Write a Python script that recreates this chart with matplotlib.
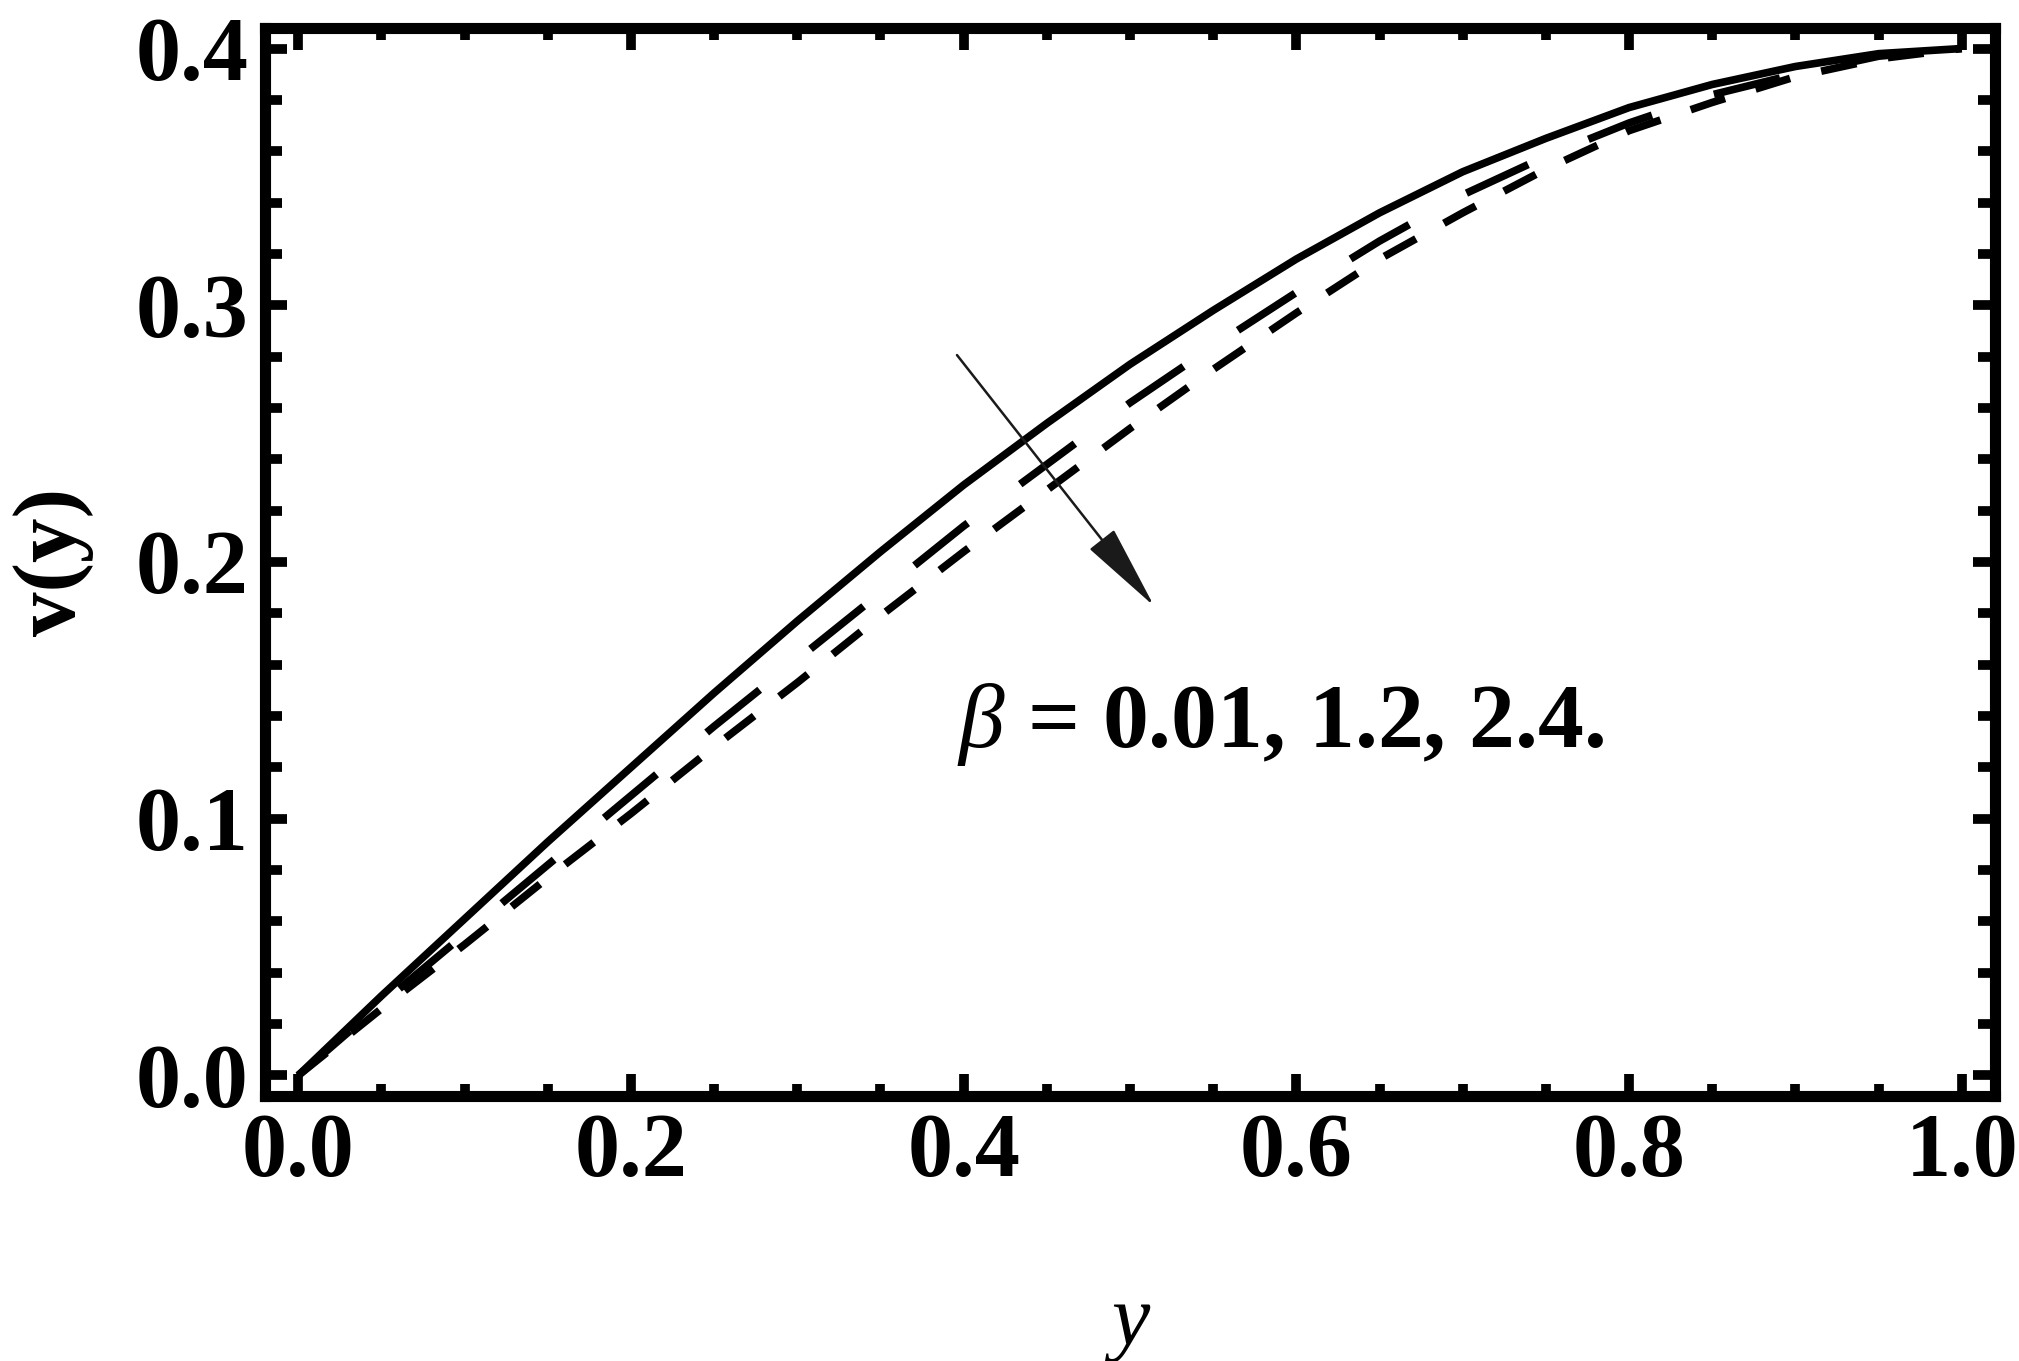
import matplotlib
matplotlib.use("Agg")
import matplotlib.pyplot as plt
from matplotlib.ticker import MultipleLocator, FormatStrFormatter
from matplotlib.patches import ArrowStyle

plt.rcParams['font.family'] = ['Liberation Serif', 'DejaVu Serif']
plt.rcParams['mathtext.fontset'] = 'custom'
plt.rcParams['mathtext.it'] = 'Liberation Serif:italic'
plt.rcParams['mathtext.rm'] = 'Liberation Serif'
plt.rcParams['lines.scale_dashes'] = False

# ---- data ----
y_pos = [0.00, 0.05, 0.10, 0.15, 0.20, 0.25, 0.30, 0.35, 0.40, 0.45, 0.50,
         0.55, 0.60, 0.65, 0.70, 0.75, 0.80, 0.85, 0.90, 0.95, 1.00]
v_beta_001 = [0.000, 0.031, 0.061, 0.091, 0.120, 0.149, 0.177, 0.204, 0.230, 0.254, 0.277,
              0.298, 0.318, 0.336, 0.352, 0.365, 0.377, 0.386, 0.393, 0.398, 0.400]
v_beta_12 = [0.000, 0.028, 0.055, 0.082, 0.109, 0.136, 0.162, 0.188, 0.214, 0.238, 0.262,
             0.284, 0.305, 0.325, 0.343, 0.358, 0.371, 0.382, 0.390, 0.397, 0.400]
v_beta_24 = [0.000, 0.026, 0.051, 0.077, 0.102, 0.128, 0.153, 0.179, 0.204, 0.228, 0.252,
             0.275, 0.297, 0.318, 0.336, 0.353, 0.368, 0.379, 0.389, 0.396, 0.400]
beta_label = r"$\beta$ = 0.01, 1.2, 2.4."

fig = plt.figure(figsize=(20.19, 13.61), dpi=100)
ax = fig.add_axes([0.13125, 0.19471, 0.85686, 0.78472])

lw = 5.5
ax.plot(y_pos, v_beta_001, color='black', lw=lw, solid_capstyle='butt')
l2, = ax.plot(y_pos, v_beta_12, color='black', lw=lw, dash_capstyle='butt')
l2.set_dashes((49, 47))
l3, = ax.plot(y_pos, v_beta_24, color='black', lw=lw, dash_capstyle='butt')
l3.set_dashes((26, 23))

ax.set_xlim(-0.02, 1.02)
ax.set_ylim(-0.008, 0.408)

ax.xaxis.set_major_locator(MultipleLocator(0.2))
ax.xaxis.set_minor_locator(MultipleLocator(0.05))
ax.yaxis.set_major_locator(MultipleLocator(0.1))
ax.yaxis.set_minor_locator(MultipleLocator(0.02))
ax.xaxis.set_major_formatter(FormatStrFormatter('%.1f'))
ax.yaxis.set_major_formatter(FormatStrFormatter('%.1f'))

for s in ax.spines.values():
    s.set_linewidth(8)
    s.set_color('black')

ax.tick_params(axis='both', which='both', direction='in', top=True, right=True,
               width=7, color='black')
ax.tick_params(axis='x', which='major', length=15.5, pad=12)
ax.tick_params(axis='x', which='minor', length=8.6)
ax.tick_params(axis='y', which='major', length=16, pad=12)
ax.tick_params(axis='y', which='minor', length=12)

for lab in ax.get_xticklabels() + ax.get_yticklabels():
    lab.set_fontsize(65)
    lab.set_fontweight('bold')

ax.set_xlabel('y', fontsize=62, style='italic', labelpad=64)
ax.set_ylabel('v(y)', fontsize=64, fontweight='bold', labelpad=30)

ax.annotate('', xy=(0.5145, 0.1828), xytext=(0.396, 0.2806),
            arrowprops=dict(arrowstyle=ArrowStyle('-|>', head_length=55, head_width=10),
                            mutation_scale=1, lw=1.8, color='#1a1a1a',
                            shrinkA=0, shrinkB=0))
ax.text(0.396, 0.128, beta_label, fontsize=66, fontweight='bold',
        ha='left', va='baseline')

fig.savefig('out.png', dpi=100)
